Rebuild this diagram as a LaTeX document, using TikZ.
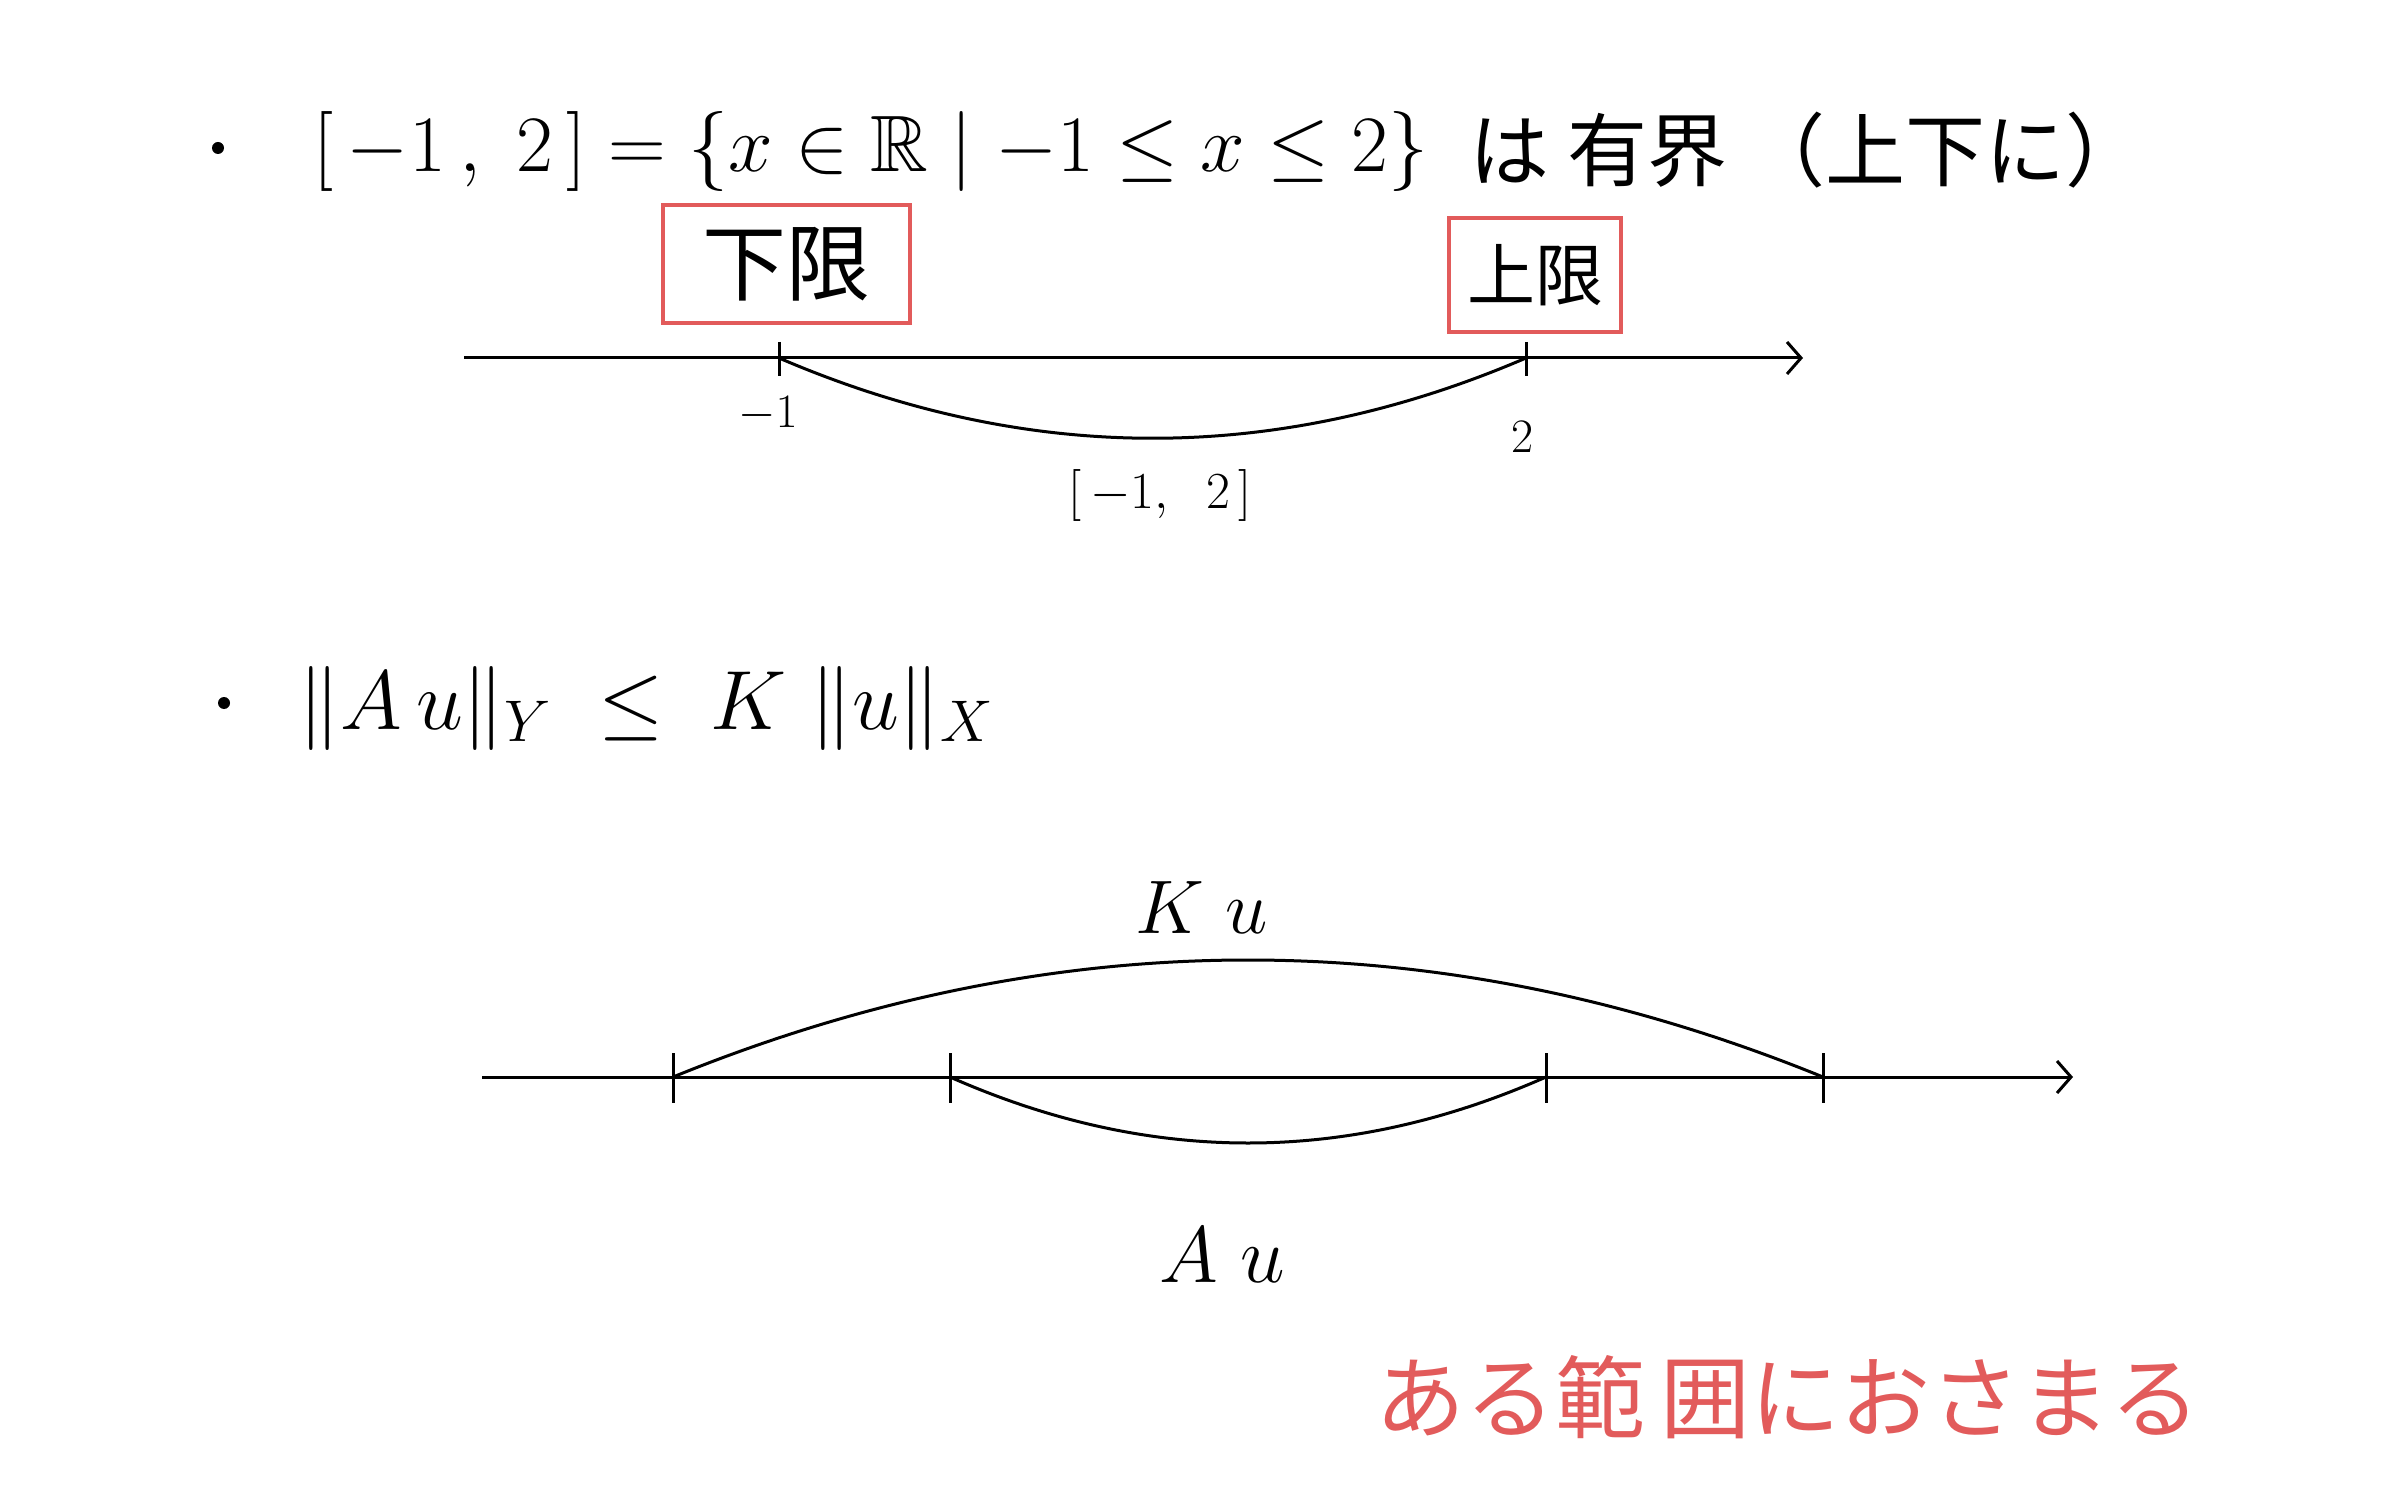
\RequirePackage{fix-cm}
\documentclass[tikz,border=0pt]{standalone}
\usepackage{amssymb}
\usepackage{fontspec}
\newfontfamily\jp{Noto Sans CJK JP}
\usetikzlibrary{arrows.meta}
\definecolor{hred}{HTML}{E25B5B}
\begin{document}
\begin{tikzpicture}[x=0.5pt,y=-0.5pt,line width=1.5pt,
  txt/.style={inner sep=0pt},
  bul/.style={circle,fill,inner sep=0pt,minimum size=6pt},
  box/.style={draw=hred,line width=2pt,inner sep=0pt},
  axis/.style={line width=1.5pt,-{Straight Barb[length=7pt,width=16pt,line width=1.5pt]}},
  tck/.style={line width=1.5pt}]
\useasboundingbox (0,0) rectangle (2386,1491);
% ---- first bullet
\node[bul] (b1) at (218,148) {};
\node[txt,anchor=west] (f1) at (312,152) {\fontsize{40}{48}\selectfont
  $[\,-1\,,\;2\,]=\{x\in\mathbb{R}\mid-1\le x\le 2\}$};
\node[txt,anchor=west] (f1j) at (1468,150) {\jp\fontsize{40}{48}\selectfont は\ 有界\ （上下に）};
% boxes
\node[box,minimum width=123.5pt,minimum height=59pt] (bx1) at (786,264) {};
\node[txt] (l1) at (bx1) {\jp\fontsize{42}{48}\selectfont 下限};
\node[box,minimum width=86pt,minimum height=57pt] (bx2) at (1535,275) {};
\node[txt] (l2) at (bx2) {\jp\fontsize{34}{40}\selectfont 上限};
% axis 1
\coordinate (a1s) at (464,358);
\coordinate (a1e) at (1803,358);
\draw[axis] (a1s) -- (a1e);
\coordinate (p1) at (779,358);
\coordinate (p2) at (1526,358);
\draw[tck] ([yshift=8pt]p1) -- ([yshift=-9pt]p1);
\draw[tck] ([yshift=8pt]p2) -- ([yshift=-9pt]p2);
\draw (p1) .. controls (1028,465) and (1277,465) .. (p2);
\node[txt] (m1) at (768,414) {\fontsize{24}{28}\selectfont $-1$};
\node[txt] (m2) at (1522,437) {\fontsize{24}{28}\selectfont $2$};
\node[txt] (iv) at (1160,496) {\fontsize{26}{30}\selectfont $[\,-1,\;\;2\,]$};
% ---- second bullet
\node[bul] (b2) at (224,703) {};
\node[txt,anchor=west] (f2) at (297,708) {\fontsize{42}{48}\selectfont
  $\|A\,u\|_{Y}\;\le\;K\;\|u\|_{X}$};
% axis 2
\coordinate (a2s) at (482,1077);
\coordinate (a2e) at (2073,1077);
\draw[axis] (a2s) -- (a2e);
\coordinate (q1) at (673,1077);
\coordinate (q2) at (950,1077);
\coordinate (q3) at (1546,1077);
\coordinate (q4) at (1823,1077);
\foreach \q in {q1,q2,q3,q4}
  \draw[tck] ([yshift=12pt]\q) -- ([yshift=-13pt]\q);
\draw (q1) .. controls (1056,921) and (1440,921) .. (q4);
\draw (q2) .. controls (1149,1165) and (1347,1165) .. (q3);
\node[txt] (ku) at (1202,908) {\fontsize{38}{44}\selectfont $K\;u$};
\node[txt] (au) at (1222,1255) {\fontsize{40}{46}\selectfont $A\;u$};
% red remark
\node[txt,text=hred] (rm) at (1788,1397) {\jp\fontsize{45}{50}\selectfont ある範\,囲におさまる};
\end{tikzpicture}
\end{document}
